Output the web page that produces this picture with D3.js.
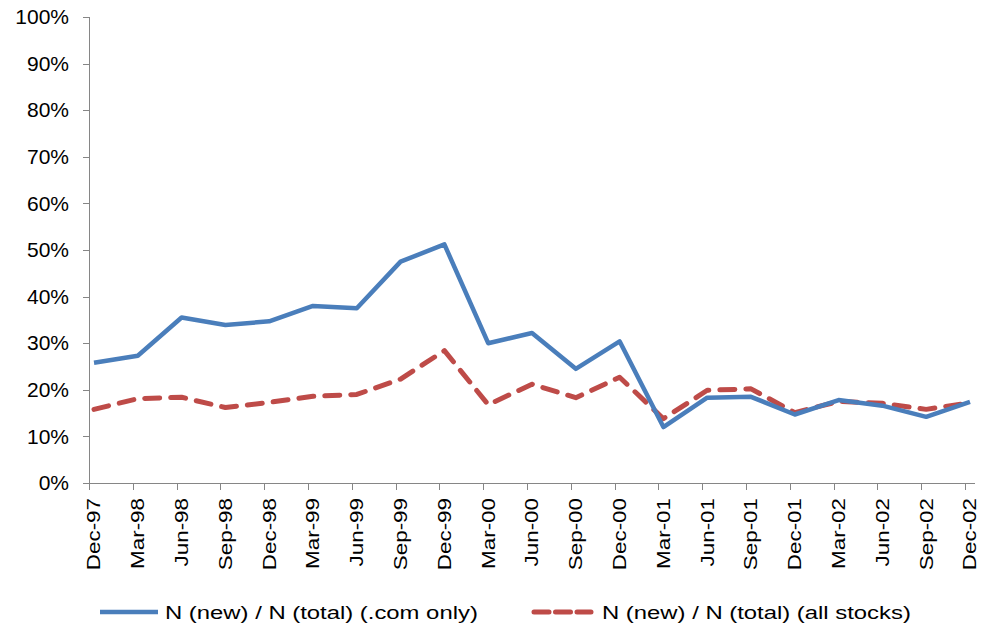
<!DOCTYPE html>
<html>
<head>
<meta charset="utf-8">
<script src="https://cdn.jsdelivr.net/npm/d3@7"></script>
<style>
  body { margin: 0; background: #fff; }
  svg { font-family: 'Liberation Sans', Arial, sans-serif; }
  .axis path, .axis line { stroke: #868686; stroke-width: 1; shape-rendering: crispEdges; }
</style>
</head>
<body>
<script>
// quarterly categories on the x axis
const quarters = ['Dec-97', 'Mar-98', 'Jun-98', 'Sep-98', 'Dec-98', 'Mar-99', 'Jun-99',
  'Sep-99', 'Dec-99', 'Mar-00', 'Jun-00', 'Sep-00', 'Dec-00', 'Mar-01', 'Jun-01',
  'Sep-01', 'Dec-01', 'Mar-02', 'Jun-02', 'Sep-02', 'Dec-02'];
// N (new) / N (total), in percent
const comOnly = [25.8, 27.3, 35.5, 33.9, 34.7, 38.0, 37.5, 47.5, 51.2, 30.0, 32.2,
  24.5, 30.4, 12.0, 18.3, 18.5, 14.7, 17.8, 16.6, 14.2, 17.4];
const allStocks = [15.8, 18.1, 18.4, 16.2, 17.3, 18.6, 19.0, 22.3, 28.4, 16.8, 21.2,
  18.3, 22.7, 13.8, 19.9, 20.2, 15.1, 17.5, 17.1, 15.8, 17.2];
const yTicks = [0, 10, 20, 30, 40, 50, 60, 70, 80, 90, 100];
const seriesNames = ['N (new) / N (total) (.com only)', 'N (new) / N (total) (all stocks)'];

const width = 984;
const height = 628;
const plotLeft = 89;
const plotRight = 975;
const plotTop = 17;
const plotBottom = 483;

const svg = d3.select('body').append('svg')
  .attr('width', width)
  .attr('height', height);

// * scales
const x = d3.scalePoint().domain(quarters).range([94, 970]);
const y = d3.scaleLinear().domain([0, 100]).range([plotBottom, plotTop]);

// * y axis
const yAxis = svg.append('g')
  .attr('class', 'axis')
  .attr('transform', `translate(${plotLeft},0)`)
  .call(d3.axisLeft(y).tickValues(yTicks).tickSize(6).tickFormat((d) => `${d}%`));
yAxis.select('.domain').attr('d', `M0,${plotTop}V${plotBottom}`);
yAxis.selectAll('text')
  .attr('x', -20)
  .attr('fill', '#000')
  .style('font-size', '21px');

// * x axis - ticks sit a little left of the points, like the original
const xAxis = svg.append('g')
  .attr('class', 'axis')
  .attr('transform', `translate(0,${plotBottom})`)
  .call(d3.axisBottom(x).tickSize(7).tickFormat(''));
xAxis.select('.domain').attr('d', `M${plotLeft},0H${plotRight}`);
xAxis.selectAll('.tick line').attr('transform', 'translate(-5,0)');

svg.append('g')
  .selectAll('text')
  .data(quarters)
  .join('text')
  .attr('transform', (d) => `translate(${x(d)},${plotBottom + 15}) rotate(-90) scale(1.28,1)`)
  .attr('text-anchor', 'end')
  .attr('dy', '0.36em')
  .style('font-size', '17.5px')
  .attr('fill', '#000')
  .text((d) => d);

// * lines
const line = d3.line()
  .x((d, i) => x(quarters[i]))
  .y((d) => y(d));

svg.append('path')
  .datum(allStocks)
  .attr('d', line)
  .attr('fill', 'none')
  .attr('stroke', '#be4b48')
  .attr('stroke-width', 5)
  .attr('stroke-dasharray', '15,11')
  .attr('stroke-linecap', 'round')
  .attr('stroke-linejoin', 'round');

svg.append('path')
  .datum(comOnly)
  .attr('d', line)
  .attr('fill', 'none')
  .attr('stroke', '#4a7ebb')
  .attr('stroke-width', 4.5)
  .attr('stroke-linejoin', 'round');

// * legend
const legendY = 612;
const legend = svg.append('g');
legend.append('line')
  .attr('x1', 100).attr('x2', 158)
  .attr('y1', legendY).attr('y2', legendY)
  .attr('stroke', '#4a7ebb')
  .attr('stroke-width', 4.5);
legend.append('line')
  .attr('x1', 534).attr('x2', 591)
  .attr('y1', legendY).attr('y2', legendY)
  .attr('stroke', '#be4b48')
  .attr('stroke-width', 5)
  .attr('stroke-dasharray', '15,6.5')
  .attr('stroke-linecap', 'round');
legend.selectAll('text.leg')
  .data(seriesNames)
  .join('text')
  .attr('class', 'leg')
  .attr('transform', (d, i) => `translate(${i === 0 ? 165 : 602},${legendY}) scale(1.29,1)`)
  .attr('dy', '0.36em')
  .style('font-size', '18.5px')
  .attr('fill', '#000')
  .text((d) => d);
</script>
</body>
</html>
